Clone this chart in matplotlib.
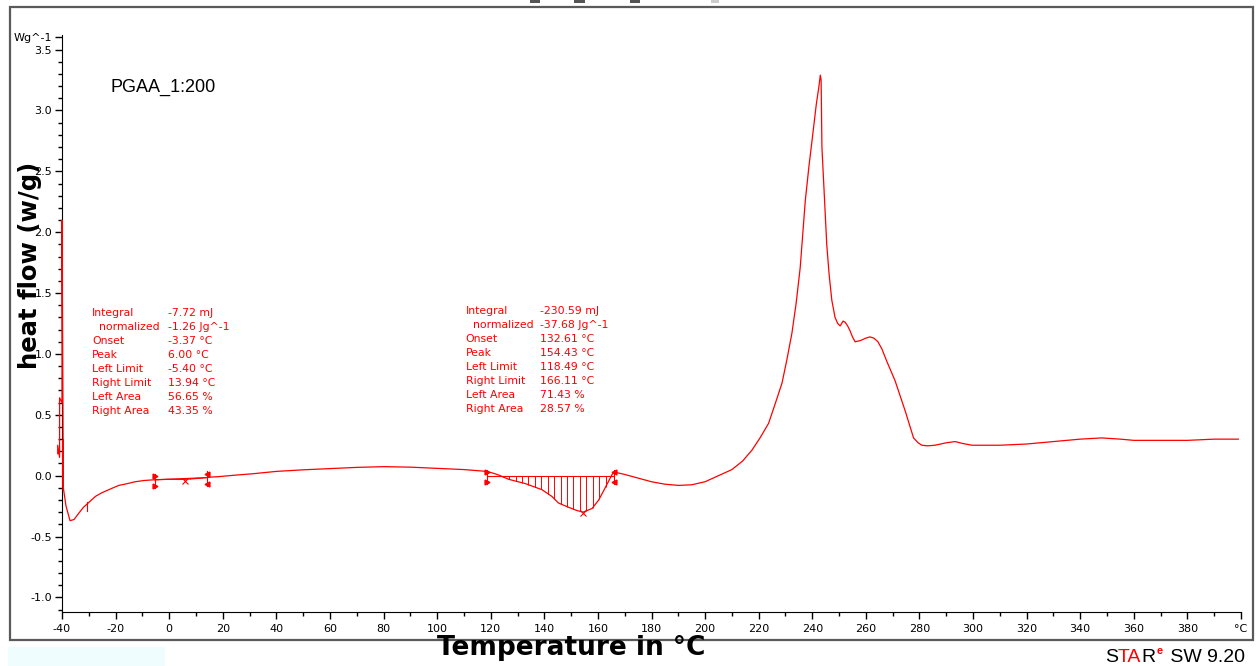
import numpy as np
import matplotlib.pyplot as plt
from matplotlib.patches import Rectangle
from matplotlib.ticker import FixedLocator, MultipleLocator

# DSC curve, PGAA_1:200
temp = [-39.5, -38.5, -37.0, -35.5, -33.8, -32.0, -30.0, -27.5, -25.1, -22.0,
        -18.8, -15.5, -12.7, -9.5, -6.4, -3.2, -0.2, 3.0, 5.9, 9.0,
        12.2, 15.5, 18.5, 25.0, 30.9, 40.0, 50.0, 60.0, 70.0, 80.0,
        90.0, 100.0, 110.0, 118.5, 121.0, 123.0, 126.7, 132.9, 139.1, 142.8,
        145.3, 149.1, 152.0, 154.4, 157.8, 160.3, 162.7, 165.3, 166.1, 170.0,
        175.0, 180.0, 185.0, 190.0, 195.0, 200.0, 205.0, 210.0, 214.0, 217.5,
        220.5, 223.7, 226.0, 228.7, 230.5, 232.4, 234.0, 235.5, 237.4, 238.8,
        239.9, 241.5, 242.5, 243.0, 243.3, 243.6, 244.5, 245.4, 246.3, 247.3,
        248.5, 249.5, 250.4, 251.5, 252.3, 253.2, 254.1, 255.0, 256.0, 258.0,
        260.0, 261.5, 263.0, 264.5, 266.0, 267.8, 270.9, 274.7, 277.8, 279.5,
        280.9, 283.0, 285.8, 290.0, 293.3, 296.0, 299.6, 310.0, 320.0, 330.0,
        340.0, 348.0, 355.0, 360.0, 370.0, 380.0, 390.0, 399.0]
heat = [-0.10, -0.25, -0.37, -0.36, -0.31, -0.26, -0.22, -0.17, -0.14, -0.11,
        -0.08, -0.065, -0.05, -0.04, -0.035, -0.032, -0.03, -0.03, -0.03, -0.025,
        -0.02, -0.012, -0.008, 0.005, 0.015, 0.035, 0.048, 0.058, 0.068, 0.074,
        0.07, 0.06, 0.05, 0.035, 0.02, 0.005, -0.03, -0.065, -0.115, -0.17,
        -0.225, -0.26, -0.285, -0.30, -0.27, -0.20, -0.10, 0.01, 0.03, 0.01,
        -0.02, -0.05, -0.07, -0.08, -0.075, -0.05, 0.0, 0.05, 0.12, 0.21,
        0.31, 0.43, 0.58, 0.76, 0.95, 1.17, 1.42, 1.71, 2.26, 2.55,
        2.75, 3.05, 3.2, 3.29, 3.25, 2.70, 2.3, 1.9, 1.65, 1.44,
        1.30, 1.25, 1.23, 1.27, 1.26, 1.23, 1.19, 1.14, 1.10, 1.11,
        1.13, 1.14, 1.13, 1.10, 1.04, 0.94, 0.78, 0.53, 0.31, 0.27,
        0.25, 0.245, 0.25, 0.27, 0.28, 0.265, 0.25, 0.25, 0.26, 0.28,
        0.30, 0.31, 0.30, 0.29, 0.29, 0.29, 0.30, 0.30]

# start-up artefact near -40 C
spike_t = [-41.6, -41.6, -40.9, -40.9, -40.0, -40.0, -39.5, -39.5, -39.5]
spike_y = [0.18, 0.25, 0.15, 0.64, 0.60, 2.10, -0.12, 0.29, -0.10]

# evaluation results
labels = ["Integral", "  normalized", "Onset", "Peak", "Left Limit",
          "Right Limit", "Left Area", "Right Area"]
values1 = ["-7.72 mJ", "-1.26 Jg^-1", "-3.37 °C", "6.00 °C", "-5.40 °C",
           "13.94 °C", "56.65 %", "43.35 %"]
values2 = ["-230.59 mJ", "-37.68 Jg^-1", "132.61 °C", "154.43 °C",
           "118.49 °C", "166.11 °C", "71.43 %", "28.57 %"]
limits1 = (-5.40, 13.94)
peak1 = 6.00
limits2 = (118.49, 166.11)
peak2 = 154.43

xticks = list(range(-40, 400, 20)) + [400]
xticklabels = [str(t) for t in range(-40, 400, 20)] + ["°C"]
yticks = [-1.0, -0.5, 0.0, 0.5, 1.0, 1.5, 2.0, 2.5, 3.0, 3.5, 3.6]
yticklabels = ["%.1f" % v for v in yticks[:-1]] + ["Wg^-1"]

red = "#ff0000"

fig = plt.figure(figsize=(12.57, 6.66), dpi=100)
ax = fig.add_axes([62 / 1257, 1 - 612 / 666, 1179 / 1257, 577 / 666])

ax.plot(temp, heat, color=red, lw=0.9)
ax.plot(spike_t, spike_y, color=red, lw=0.9, clip_on=False, zorder=5)
ax.plot([-30.7, -30.7], [-0.29, -0.22], color=red, lw=0.8)

# integration limits, baseline and hatch
for (lo, hi), pk in [(limits1, peak1), (limits2, peak2)]:
    ylo = np.interp(lo, temp, heat)
    yhi = np.interp(hi, temp, heat)
    if pk > 100:
        ylo, yhi = 0.0, 0.0
    ax.plot([lo, hi], [ylo, yhi], color=red, lw=0.8)
    for x, y, m in [(lo, ylo, ">"), (hi, yhi, "<")]:
        ax.plot([x, x], [y + 0.05, y - 0.07], color=red, lw=0.8)
        ax.plot([x, x], [y + 0.03, y - 0.05], ls="none", marker=m,
                ms=3.5, color=red)
    xs = np.arange(lo + 1.2, hi, 2.4)
    base = np.interp(xs, [lo, hi], [ylo, yhi])
    curve = np.interp(xs, temp, heat)
    ok = curve < base
    ax.vlines(xs[ok], curve[ok], base[ok], color=red, lw=0.7)
    ax.plot(pk, np.interp(pk, temp, heat) - 0.01, marker="x", ms=4,
            color=red, mew=0.8)

# text blocks
for x_lab, x_val, y0, vals in [(-28.8, -0.45, 1.34, values1),
                               (110.7, 138.4, 1.356, values2)]:
    for i, (lab, val) in enumerate(zip(labels, vals)):
        y = y0 - i * 0.115
        ax.text(x_lab, y, lab, color=red, fontsize=7.8, va="center",
                family="DejaVu Sans")
        ax.text(x_val, y, val, color=red, fontsize=7.8, va="center",
                family="DejaVu Sans")

ax.text(110 / 1257, 1 - 87 / 666, "PGAA_1:200", transform=fig.transFigure,
        fontsize=13, family="Liberation Sans", va="center")

ax.set_xlim(-40, 400)
ax.set_ylim(-1.12, 3.62)
ax.xaxis.set_major_locator(FixedLocator(xticks))
ax.set_xticklabels(xticklabels)
ax.xaxis.set_minor_locator(MultipleLocator(10))
ax.yaxis.set_major_locator(FixedLocator(yticks))
ax.set_yticklabels(yticklabels)
ax.yaxis.set_minor_locator(FixedLocator(np.arange(-1.1, 3.55, 0.1)))
ax.tick_params(which="major", length=5, width=1, labelsize=8, pad=4)
ax.tick_params(which="minor", length=3, width=1)
ax.tick_params(axis="y", which="major", pad=2)
for s in ["top", "right"]:
    ax.spines[s].set_visible(False)
ax.patch.set_visible(False)

fig.text(30 / 1257, 1 - 265 / 666, "heat flow (w/g)", rotation=90,
         fontsize=17.5, fontweight="bold", ha="center", va="center")
fig.text(571 / 1257, 1 - 648 / 666, "Temperature in °C", fontsize=19,
         fontweight="bold", ha="center", va="center")

# outer frame and bits around it
fig.patches.append(Rectangle((10 / 1257, 26 / 666), 1243 / 1257, 633 / 666,
                             transform=fig.transFigure, fill=False,
                             ec="#5a5a5a", lw=1.6, zorder=0))
fig.patches.append(Rectangle((8 / 1257, 0), 157 / 1257, 19 / 666,
                             transform=fig.transFigure, fc="#effdff",
                             ec="none", zorder=0))
for x0, w, c in [(530, 10, "#555555"), (574, 11, "#555555"),
                 (630, 10, "#555555"), (711, 8, "#cccccc")]:
    fig.patches.append(Rectangle((x0 / 1257, 663 / 666), w / 1257, 3 / 666,
                                 transform=fig.transFigure, fc=c, ec="none"))

# STARe SW 9.20 logo
t = fig.text(1105 / 1257, 1 - 657 / 666, "S", fontsize=14,
             family="Liberation Sans", va="center")
t = ax.annotate("TA", xy=(1, 0), xycoords=t, va="bottom", fontsize=14,
                family="Liberation Sans", color=red, annotation_clip=False)
t = ax.annotate("R", xy=(1, 0), xycoords=t, va="bottom", fontsize=14,
                family="Liberation Sans", annotation_clip=False)
ax.annotate("e", xy=(1, 0.55), xycoords=t, xytext=(1, 0),
            textcoords="offset points", va="bottom", fontsize=8,
            family="Liberation Sans", fontweight="bold", color=red,
            annotation_clip=False)
ax.annotate(" SW 9.20", xy=(1, 0), xycoords=t, xytext=(7, 0),
            textcoords="offset points", va="bottom", fontsize=14,
            family="Liberation Sans", annotation_clip=False)

fig.savefig("out.png", dpi=100)
